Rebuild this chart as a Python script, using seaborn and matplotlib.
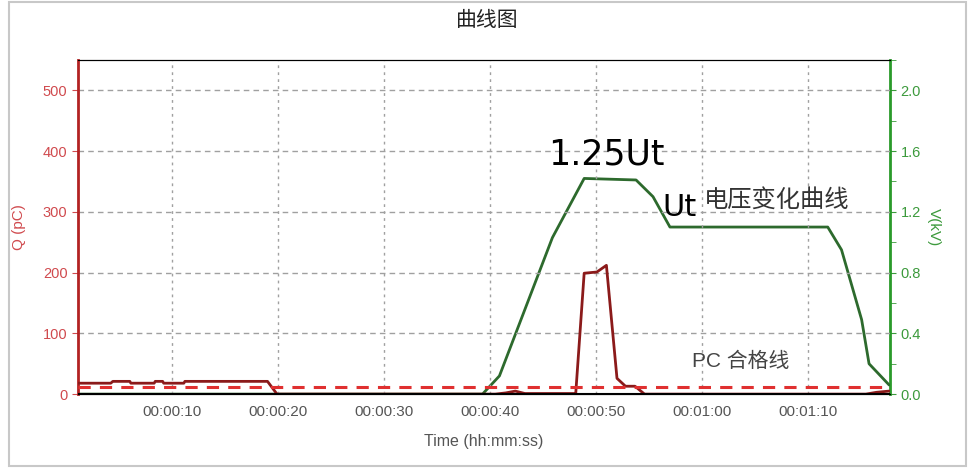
import matplotlib
matplotlib.use('Agg')
import matplotlib.pyplot as plt
import matplotlib.ticker as mticker
from matplotlib.patches import Rectangle
import seaborn as sns
import pandas as pd

# partial discharge Q (pC) over time (s)
q_time = [1.1, 4.2, 4.4, 6.0, 6.1, 8.3, 8.4, 9.1, 9.2, 11.1, 11.2, 19.0, 19.9,
          40.5, 41.5, 42.4, 43.3, 47.9, 48.1, 48.9, 50.1, 51.0, 52.0, 52.8, 53.7, 54.6,
          75.5, 76.5, 77.7]
q_vals = [18, 18, 21, 21, 18, 18, 21, 21, 18, 18, 21, 21, 0,
          0, 2, 5, 1, 1, 0, 199, 201, 212, 26, 13, 13, 0,
          0, 3, 5]

# test voltage V (kV)
v_time = [1.1, 39.3, 40.9, 45.9, 48.9, 53.8, 55.4, 57.0, 71.9, 73.2, 75.1, 75.8, 77.7]
v_vals = [0.0, 0.0, 0.12, 1.03, 1.42, 1.41, 1.30, 1.10, 1.10, 0.95, 0.49, 0.20, 0.06]

pc_limit = 11
x_ticks = [10, 20, 30, 40, 50, 60, 70]
q_ticks = [0, 100, 200, 300, 400, 500]
v_ticks = [0.0, 0.4, 0.8, 1.2, 1.6, 2.0]

q_df = pd.DataFrame({'t': q_time, 'q': q_vals})
v_df = pd.DataFrame({'t': v_time, 'v': v_vals})

sns.set_style('white')
plt.rcParams['font.family'] = ['Liberation Sans', 'Noto Sans CJK SC', 'DejaVu Sans']

red = '#d04a4e'
green = '#3c9a3c'

fig = plt.figure(figsize=(9.74, 4.76), dpi=100)
ax = fig.add_axes([0.080, 0.172, 0.834, 0.702])
ax2 = ax.twinx()

sns.lineplot(data=q_df, x='t', y='q', ax=ax, color='#8b1a1a', linewidth=2, zorder=4)
sns.lineplot(data=v_df, x='t', y='v', ax=ax2, color='#2d6a2d', linewidth=2, zorder=3)
ax.axhline(pc_limit, color='#e03030', linestyle=(0, (4, 3)), linewidth=2.2, zorder=5)
ax.axhline(0, color='black', linewidth=1.5, zorder=6)

ax.set_xlim(1.1, 77.8)
ax.set_ylim(0, 550)
ax2.set_ylim(0, 2.2)

def hms(x, pos):
    s = int(round(x))
    return '%02d:%02d:%02d' % (s // 3600, (s % 3600) // 60, s % 60)

ax.xaxis.set_major_locator(mticker.FixedLocator(x_ticks))
ax.xaxis.set_minor_locator(mticker.MultipleLocator(2.5))
ax.xaxis.set_major_formatter(mticker.FuncFormatter(hms))
ax.set_yticks(q_ticks)
ax2.set_yticks(v_ticks)
ax2.yaxis.set_minor_locator(mticker.MultipleLocator(0.2))
ax2.yaxis.set_major_formatter(mticker.FormatStrFormatter('%.1f'))

ax.grid(True, axis='x', color='#a0a0a0', linestyle=(0, (2, 3)), linewidth=1)
ax.grid(True, axis='y', color='#a0a0a0', linestyle=(0, (4, 3)), linewidth=1)

ax.tick_params(axis='x', which='both', direction='out', colors='#666666', labelsize=11, length=4)
ax.tick_params(axis='x', which='minor', length=3)
ax.tick_params(axis='y', colors=red, labelsize=10.5, length=4, direction='out', left=True)
ax2.tick_params(axis='y', which='both', colors=green, labelsize=10.5, length=4, direction='out', right=True)
for lbl in ax.get_xticklabels():
    lbl.set_color('#555555')

ax.set_xlabel('Time (hh:mm:ss)', color='#555555', fontsize=11.5)
ax.xaxis.set_label_coords(0.5, -0.12)
ax.set_ylabel('Q (pC)', color=red, fontsize=11, labelpad=12)
ax2.set_ylabel('V(kV)', color=green, fontsize=11, rotation=270, labelpad=14)

ax.spines['left'].set_color('#b22222')
ax.spines['left'].set_linewidth(2)
ax2.spines['left'].set_visible(False)
ax2.spines['right'].set_color('#2a9a2a')
ax2.spines['right'].set_linewidth(2)
ax.spines['right'].set_visible(False)
for a in (ax, ax2):
    a.spines['top'].set_color('black')
    a.spines['bottom'].set_color('black')

ax.set_zorder(ax2.get_zorder() + 1)
ax.patch.set_visible(False)

ax.text(0.579, 0.716, '1.25Ut', transform=ax.transAxes, fontsize=25, color='black',
        va='center', family=['DejaVu Sans'])
ax.text(0.720, 0.560, 'Ut', transform=ax.transAxes, fontsize=22, color='black',
        va='center', family=['DejaVu Sans'])
ax.text(0.770, 0.581, '电压变化曲线', transform=ax.transAxes, fontsize=17.5, color='#333333',
        va='center')
ax.text(0.756, 0.099, 'PC 合格线', transform=ax.transAxes, fontsize=15, color='#444444',
        va='center')

fig.text(0.5, 0.958, '曲线图', ha='center', va='center', fontsize=15, color='#222222')
fig.patches.append(Rectangle((0.009, 0.02), 0.983, 0.975, transform=fig.transFigure,
                             fill=False, edgecolor='#c8c8c8', linewidth=1.5))

fig.savefig('out.png', dpi=100)
